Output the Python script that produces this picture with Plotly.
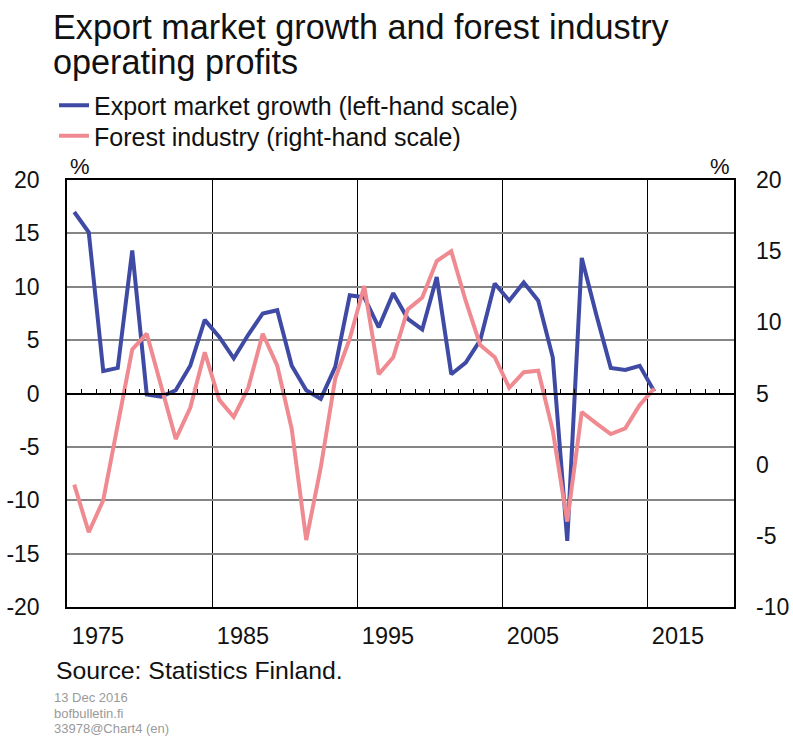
import plotly.graph_objects as go

# ---------------- data ----------------
years = list(range(1975, 2016))

# Export market growth, % (left-hand scale)
export_growth = [17.0, 15.1, 2.1, 2.4, 13.4, -0.1, -0.3, 0.3, 2.6, 6.9,
                 5.3, 3.3, 5.5, 7.5, 7.8, 2.6, 0.3, -0.5, 2.5, 9.2,
                 9.0, 6.2, 9.4, 7.0, 6.0, 10.9, 1.8, 2.9, 5.0, 10.3,
                 8.7, 10.4, 8.7, 3.4, -13.8, 12.7, 7.4, 2.4, 2.2, 2.6,
                 0.2]

# Forest industry operating profits, % (right-hand scale)
forest_industry = [-1.4, -4.75, -2.5, 2.9, 8.1, 9.2, 5.45, 1.8, 4.0, 7.9,
                   4.55, 3.35, 5.4, 9.2, 6.95, 2.5, -5.3, -0.2, 6.05, 8.85,
                   12.55, 6.35, 7.55, 10.9, 11.75, 14.3, 15.0, 11.5, 8.4, 7.55,
                   5.4, 6.5, 6.6, 2.4, -4.0, 3.7, 2.9, 2.15, 2.55, 4.2,
                   5.35]

left_ticks = [-20, -15, -10, -5, 0, 5, 10, 15, 20]
right_ticks = [-10, -5, 0, 5, 10, 15, 20]
decade_labels = ["1975", "1985", "1995", "2005", "2015"]
series_names = ["Export market growth (left-hand scale)",
                "Forest industry (right-hand scale)"]
title_lines = ["Export market growth and forest industry", "operating profits"]
source_text = "Source: Statistics Finland."
footer_lines = ["13 Dec 2016", "bofbulletin.fi", "33978@Chart4 (en)"]

# ---------------- styling ----------------
W, H = 793, 738
ML, MR, MT, MB = 67, 59, 180, 131
PW, PH = W - ML - MR, H - MT - MB
FONT = "Liberation Sans, Arial, Helvetica, sans-serif"
BLUE = "#3F4AA4"
PINK = "#F08A91"
TXT = "#111111"

x_range = [years[0] - 0.5, 2020.5]
decade_bounds = [int(t) - 0.5 for t in decade_labels]


def xp(px):
    return (px - ML) / PW


def yp(py):
    return (MT + PH - py) / PH


fig = go.Figure()
fig.add_trace(go.Scatter(x=years, y=export_growth, mode="lines",
                         name=series_names[0],
                         line=dict(color=BLUE, width=4),
                         xaxis="x", yaxis="y", legend="legend"))
fig.add_trace(go.Scatter(x=years, y=forest_industry, mode="lines",
                         name=series_names[1],
                         line=dict(color=PINK, width=4),
                         xaxis="x2", yaxis="y2", legend="legend2"))

zero_pos = (0 - left_ticks[0]) / (left_ticks[-1] - left_ticks[0])

leg_common = dict(xanchor="left", yanchor="middle",
                  font=dict(size=25, family=FONT, color=TXT),
                  bgcolor="rgba(0,0,0,0)", borderwidth=0, itemwidth=30)

fig.update_layout(
    template="none",
    width=W, height=H,
    margin=dict(l=ML, r=MR, t=MT, b=MB, pad=0, autoexpand=False),
    paper_bgcolor="white", plot_bgcolor="white",
    font=dict(family=FONT, color=TXT),
    showlegend=True,
    legend=dict(x=xp(54), y=yp(105.5), **leg_common),
    legend2=dict(x=xp(54), y=yp(136), **leg_common),
    xaxis=dict(range=x_range, tickmode="array", tickvals=decade_bounds,
               ticktext=decade_labels, ticks="", showgrid=True,
               gridcolor="#000000", gridwidth=1, zeroline=False,
               showline=True, linecolor="#000000", linewidth=1.5, mirror=True,
               tickfont=dict(size=23.5, family=FONT, color=TXT),
               ticklabelshift=31, ticklabelstandoff=7, automargin=False),
    xaxis2=dict(range=x_range, overlaying="x", anchor="free", position=zero_pos,
                side="bottom", showline=True, linecolor="#000000", linewidth=1.5,
                ticks="inside", ticklen=4, tickwidth=1.2, tickcolor="#000000",
                tickmode="linear", tick0=years[0] + 0.5, dtick=1,
                showticklabels=False, showgrid=False, zeroline=False,
                automargin=False),
    yaxis=dict(range=[left_ticks[0], left_ticks[-1]], tickmode="array",
               tickvals=left_ticks, ticktext=[str(v) for v in left_ticks],
               ticks="", showgrid=True,
               gridcolor="#858585", gridwidth=1.5, zeroline=False,
               showline=True, linecolor="#000000", linewidth=1.5, mirror=True,
               tickfont=dict(size=23, family=FONT, color=TXT),
               ticklabelstandoff=21, automargin=False),
    yaxis2=dict(range=[right_ticks[0], right_ticks[-1]], overlaying="y",
                side="right", anchor="free", position=1, tickmode="array",
                tickvals=right_ticks, ticktext=[str(v) for v in right_ticks],
                ticks="", showgrid=False, zeroline=False,
                showline=False,
                tickfont=dict(size=23, family=FONT, color=TXT),
                ticklabelstandoff=21, automargin=False),
)

ann = []
# title
ann.append(dict(text=title_lines[0], x=xp(51), y=yp(27), xanchor="left",
                yanchor="middle", font=dict(size=34.2, color=TXT)))
ann.append(dict(text=title_lines[1], x=xp(51), y=yp(61.5), xanchor="left",
                yanchor="middle", font=dict(size=34.2, color=TXT)))
# % units
ann.append(dict(text="%", x=xp(80), y=yp(166.5), xanchor="center",
                yanchor="middle", font=dict(size=22, color=TXT)))
ann.append(dict(text="%", x=xp(720), y=yp(166.5), xanchor="center",
                yanchor="middle", font=dict(size=22, color=TXT)))
# source
ann.append(dict(text=source_text, x=xp(54), y=yp(670), xanchor="left",
                yanchor="middle", font=dict(size=24.8, color=TXT)))
# footer
for i, t in enumerate(footer_lines):
    ann.append(dict(text=t, x=xp(52), y=yp(697.5 + i * 15.7), xanchor="left",
                    yanchor="middle", font=dict(size=13, color="#9a9a9a")))
for a in ann:
    a.update(xref="paper", yref="paper", showarrow=False)
fig.update_layout(annotations=ann)

fig.write_html("out.html", config={"displayModeBar": False},
               post_script="document.body.style.margin='0';")
